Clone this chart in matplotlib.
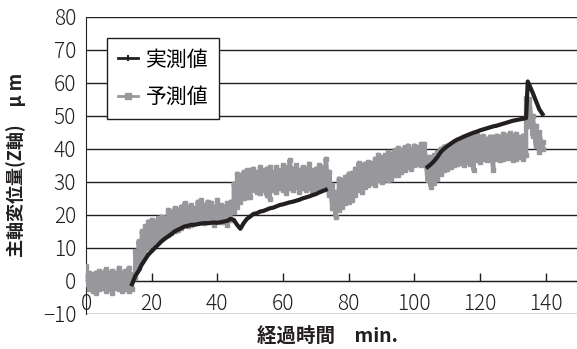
import numpy as np
import matplotlib
matplotlib.use("Agg")
import matplotlib.pyplot as plt
from matplotlib.lines import Line2D

plt.rcParams['font.family'] = ['Noto Sans CJK JP', 'DejaVu Sans']

# 予測値 (gray band): low / high per minute, 0..139 min
gray_lo = [-1, -2.5, -3, -3.5, -2.5, -2, -3, -2.5, -3.5, -2, -2.5, -3, -2.5, -3, -2.5,
           1, 4, 6, 8, 10, 11, 12, 12.5, 13, 13.5, 14, 14.5, 15, 15.5, 16,
           17, 16.5, 17, 17.5, 18, 18, 17.5, 18, 18.5, 17, 18.5, 18, 18, 17, 18.5,
           21, 22.5, 24, 25, 25.5, 25.5, 27.5, 27, 26.5, 27.5, 26, 24.8, 27.5, 27, 28,
           27.5, 26.5, 28, 27.5, 28.5, 27, 28, 27.5, 28, 26.5, 28, 27.5, 28, 28, 26,
           22, 19.5, 21.5, 22.5, 23.5, 24, 24.5, 26, 27.5, 27, 28.5, 29, 29.7, 29, 30.6,
           30, 31, 30.5, 31, 32, 32, 33, 33.5, 34.6, 34, 35, 35.5, 35, 36, 30.5,
           28.5, 29.7, 31, 32.5, 33.6, 34, 34.5, 35, 35.5, 35.7, 35, 36, 35.5, 33.6, 36.7,
           36, 37, 36.5, 37, 33.6, 37, 36.5, 37, 37.3, 37.3, 36.5, 37, 37.5, 37, 38,
           47, 44, 41, 39, 40]
gray_hi = [4.5, 2.5, 2, 2.5, 3, 2.5, 3.5, 2.5, 3, 2.5, 4, 2.5, 3, 4, 2,
           9, 12, 15, 16.5, 18, 18.5, 18, 19, 19.5, 19, 21.5, 21, 22, 21.5, 22.5,
           23.5, 22.5, 23, 22, 24, 24.5, 23, 24, 23.5, 22.5, 24.5, 23, 22.5, 23.5, 24,
           29.5, 32.5, 32, 33, 33.5, 33.5, 34, 33, 34.5, 33.5, 34, 34.5, 33, 34.5, 33.5,
           35, 34.5, 36.6, 34, 35, 33.5, 34.5, 34, 35.5, 33.5, 34, 35, 34.5, 37, 33,
           29, 27, 31, 30.5, 31.5, 32.5, 32.7, 34, 35.7, 35, 35.5, 36, 35.7, 37, 38.2,
           37.5, 38, 39, 38.5, 39.5, 40.3, 39.5, 40.5, 41, 40, 41, 40.5, 41.5, 41.5, 37.5,
           37.5, 38, 39, 40, 40.7, 41, 41.5, 42, 42.5, 42.7, 43, 43, 43.5, 44, 44.2,
           43.5, 43.8, 43, 43.7, 43.7, 44, 43.5, 44.5, 44, 44.7, 44, 44.5, 43.5, 44, 55.4,
           55, 50, 47, 45, 42]
gray_t = list(range(140))

# 実測値 (black line), gap between 74 and 103 min
black_t = list(range(14, 74)) + [np.nan] + list(range(104, 135)) + [134.5, 136, 137, 138, 139]
black_y = [-1, 1.5, 3, 5, 6.5, 8, 9, 10, 11, 12, 12.8, 13.5, 14.2, 15, 15.5, 16,
           16.5, 16.7, 17, 17, 17.2, 17.4, 17.5, 17.5, 17.6, 17.7, 17.6, 17.8, 18, 18.2,
           18.8, 18.5, 17, 15.8, 17.5, 18.8, 19.5, 20.3, 20.5, 21, 21.2, 21.6, 22, 22.2,
           22.6, 23, 23.2, 23.5, 23.8, 24, 24.3, 24.6, 25, 25.3, 25.6, 26, 26.3, 26.8,
           27.2, 27.6,
           np.nan,
           34.5, 35.3, 36.3, 37.5, 39, 40, 40.8, 41.5, 42.2, 42.8, 43.2, 43.7, 44.1, 44.5,
           44.9, 45.2, 45.6, 45.9, 46.2, 46.5, 46.8, 47, 47.3, 47.6, 47.9, 48.2, 48.5,
           48.7, 48.9, 49.1, 49.3,
           60.4, 57, 54.5, 52, 50.5]

x_ticks = [0, 20, 40, 60, 80, 100, 120, 140]
y_ticks = [-10, 0, 10, 20, 30, 40, 50, 60, 70, 80]

gray = '#98989c'
black = '#231f20'

fig = plt.figure(figsize=(5.77, 3.49), dpi=100)
ax = fig.add_axes([86 / 577, 1 - 314 / 349, 491 / 577, 297.3 / 349])

# zigzag through the low/high readings to give the noisy band
zz_t, zz_y = [], []
for t, lo, hi in zip(gray_t, gray_lo, gray_hi):
    zz_t += [t, t]
    zz_y += [lo, hi]
ax.plot(zz_t, zz_y, color=gray, lw=3.2, marker='s', ms=2.5, mec=gray, zorder=3)
ax.plot(black_t, black_y, color=black, lw=3, zorder=4)

ax.set_xlim(0, 149.5)
ax.set_ylim(-10, 80)
ax.set_xticks(x_ticks)
ax.set_yticks(y_ticks)
ax.grid(axis='y', color=black, lw=1)
ax.set_axisbelow(True)

for s in ['top', 'right']:
    ax.spines[s].set_visible(False)
ax.spines['bottom'].set_position(('data', 0))
ax.spines['bottom'].set_color(black)
ax.spines['left'].set_color(black)
ax.spines['bottom'].set_zorder(2)

ax.tick_params(axis='x', direction='in', length=6, width=1, color=black, pad=9,
               labelsize=15, labelcolor=black)
ax.tick_params(axis='y', length=0, pad=7, labelsize=15, labelcolor=black)
for lab in ax.get_xticklabels() + ax.get_yticklabels():
    lab.set_fontweight('light')

handles = [Line2D([], [], color=black, lw=2, marker='|', ms=4, mew=1.5),
           Line2D([], [], color=gray, lw=2, marker='s', ms=4)]
leg = ax.legend(handles, ['実測値', '予測値'], loc='upper left',
                bbox_to_anchor=(0.043, 0.928), borderaxespad=0, fancybox=False,
                framealpha=1, edgecolor=black, fontsize=15, handlelength=1.0,
                handletextpad=0.35, borderpad=0.5, labelspacing=0.75)
leg.get_frame().set_linewidth(1)
leg.set_zorder(5)

fig.text(327 / 577, 1 - 336 / 349, '経過時間　min.', ha='center', va='center',
         fontsize=14, fontweight='bold', color=black)
fig.text(16.5 / 577, 1 - 165 / 349, '主軸変位量(Z軸)　μ m', ha='center', va='center',
         rotation=90, fontsize=13, fontweight='bold', color=black)

fig.savefig('out.png', dpi=100)
